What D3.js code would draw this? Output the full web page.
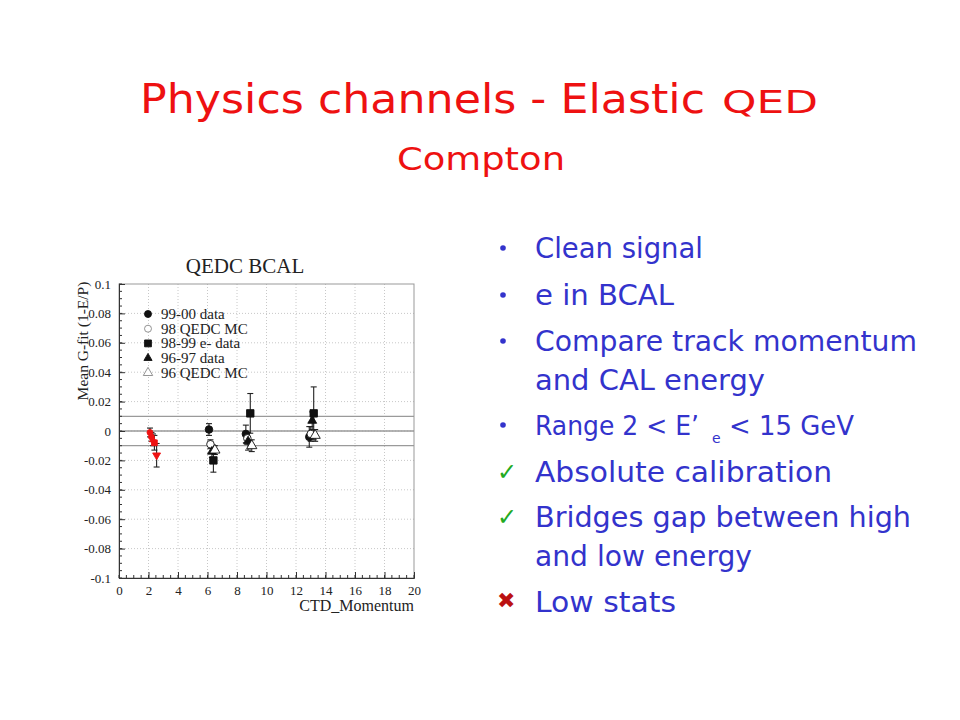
<!DOCTYPE html>
<html><head><meta charset="utf-8">
<script src="https://cdn.jsdelivr.net/npm/d3@7"></script>
<style>body{margin:0;background:#fff}svg{display:block}</style>
</head><body>
<svg id="c" width="960" height="720"></svg>
<script>
// ---- data ----
const seriesNames = ["99-00 data", "98 QEDC MC", "98-99 e- data", "96-97 data", "96 QEDC MC"];
const mom9900 = [2.1, 6.1, 8.6, 12.9];
const val9900 = [-0.001, 0.001, -0.002, -0.004];
const err9900 = [0.003, 0.004, 0.006, 0.007];
const mom98mc = [2.2, 6.2, 8.7, 13.0];
const val98mc = [-0.004, -0.009, -0.005, -0.002];
const err98mc = [0.003, 0.003, 0.004, 0.005];
const mom9899 = [2.4, 6.4, 8.9, 13.2];
const val9899 = [-0.008, -0.020, 0.012, 0.012];
const err9899 = [0.005, 0.008, 0.0135, 0.018];
const mom9697 = [2.3, 6.3, 8.75, 13.1];
const val9697 = [-0.006, -0.014, -0.007, 0.007];
const err9697 = [0.004, 0.004, 0.006, 0.006];
const mom96mc = [2.55, 6.5, 9.0, 13.3];
const val96mc = [-0.0165, -0.013, -0.010, -0.003];
const err96mc = [0.008, 0.003, 0.004, 0.004];
const xTicks = [0, 2, 4, 6, 8, 10, 12, 14, 16, 18, 20];
const yTicks = [-0.1, -0.08, -0.06, -0.04, -0.02, 0, 0.02, 0.04, 0.06, 0.08, 0.1];
const refLines = [0.01, 0, -0.01];
const bullets = ["Clean signal", "e in BCAL", "Compare track momentum", "and CAL energy", "RANGE", "Absolute calibration", "Bridges gap between high", "and low energy", "Low stats"];

const svg = d3.select("#c");
const slideFont = "'DejaVu Sans', 'Open Sans', sans-serif";
const red = "#ee1111", blue = "#3333cc";

// ---- slide title ----
const t1 = svg.append("text").attr("x", 140).attr("y", 113).attr("fill", red)
  .style("font-family", slideFont);
t1.append("tspan").attr("font-size", 40).text("Physics channels - Elastic")
  .attr("textLength", 565).attr("lengthAdjust", "spacingAndGlyphs");
t1.append("tspan").attr("x", 722).attr("font-size", 32).text("QED")
  .attr("textLength", 96).attr("lengthAdjust", "spacingAndGlyphs");
svg.append("text").attr("x", 397).attr("y", 170).attr("fill", red)
  .style("font-family", slideFont).attr("font-size", 32).text("Compton")
  .attr("textLength", 168).attr("lengthAdjust", "spacingAndGlyphs");

// ---- bullets ----
const bl = [
  {y: 258, w: 168, m: "dot"}, {y: 305, w: 139, m: "dot"}, {y: 351, w: 382, m: "dot"},
  {y: 390, w: 230, m: null}, {y: 435, w: 0, m: "dot"}, {y: 482, w: 297, m: "check"},
  {y: 527, w: 376, m: "check"}, {y: 566, w: 217, m: null}, {y: 612, w: 141, m: "cross"}
];
bullets.forEach((txt, i) => {
  const b = bl[i];
  if (b.m === "dot") svg.append("circle").attr("cx", 503).attr("cy", b.y - 10).attr("r", 2.8).attr("fill", blue);
  if (b.m === "check") svg.append("text").attr("x", 497).attr("y", b.y - 2).attr("fill", "#22aa22")
    .attr("font-size", 24).style("font-family", "'DejaVu Sans'").text("\u2713");
  if (b.m === "cross") svg.append("text").attr("x", 497).attr("y", b.y - 4).attr("fill", "#bb1111")
    .attr("font-size", 22).style("font-family", "'DejaVu Sans'").text("\u2716");
  if (txt === "RANGE") {
    svg.append("text").attr("x", 535).attr("y", b.y).attr("fill", blue)
      .style("font-family", slideFont).attr("font-size", 27)
      .text("Range 2 < E\u2019").attr("textLength", 164).attr("lengthAdjust", "spacingAndGlyphs");
    svg.append("text").attr("x", 712).attr("y", b.y + 8).attr("fill", blue)
      .style("font-family", slideFont).attr("font-size", 14).text("e");
    svg.append("text").attr("x", 729).attr("y", b.y).attr("fill", blue)
      .style("font-family", slideFont).attr("font-size", 27)
      .text("< 15 GeV").attr("textLength", 125).attr("lengthAdjust", "spacingAndGlyphs");
  } else {
    svg.append("text").attr("x", 535).attr("y", b.y).attr("fill", blue)
      .style("font-family", slideFont).attr("font-size", 28).text(txt)
      .attr("textLength", b.w).attr("lengthAdjust", "spacingAndGlyphs");
  }
});

// ---- chart ----
const serif = "'Liberation Serif', 'DejaVu Serif', serif";
const L = 119, R = 414, T = 284, B = 578;
const x = d3.scaleLinear().domain([0, 20]).range([L, R]);
const y = d3.scaleLinear().domain([-0.1, 0.1]).range([B, T]);
const g = svg.append("g");

g.append("text").attr("x", 245).attr("y", 273).attr("text-anchor", "middle")
  .style("font-family", serif).attr("font-size", 21).attr("fill", "#222").text("QEDC BCAL");

// grid
g.append("g").selectAll("line").data(xTicks.slice(1, -1)).join("line")
  .attr("x1", d => x(d)).attr("x2", d => x(d)).attr("y1", T).attr("y2", B)
  .attr("stroke", "#c8c8c8").attr("stroke-dasharray", "1,2");
g.append("g").selectAll("line").data(yTicks.slice(1, -1)).join("line")
  .attr("x1", L).attr("x2", R).attr("y1", d => y(d)).attr("y2", d => y(d))
  .attr("stroke", "#c8c8c8").attr("stroke-dasharray", "1,2");
// reference lines
g.append("g").selectAll("line").data(refLines).join("line")
  .attr("x1", L).attr("x2", R).attr("y1", d => y(d)).attr("y2", d => y(d))
  .attr("stroke", "#9a9a9a").attr("stroke-width", 1.3);
// frame top/right
g.append("rect").attr("x", L).attr("y", T).attr("width", R - L).attr("height", B - T)
  .attr("fill", "none").attr("stroke", "#999");

// axes
const fmt = d => d === 0 ? "0" : String(+d.toFixed(2)).replace("\u2212", "-");
const xAxis = d3.axisBottom(x).tickValues(xTicks).tickFormat(d3.format("d")).tickSize(-6).tickPadding(8);
const xa = g.append("g").attr("transform", `translate(0,${B})`).call(xAxis);
const xMinor = d3.range(0, 20.01, 0.5);
xa.append("g").selectAll("line").data(xMinor).join("line")
  .attr("x1", d => x(d)).attr("x2", d => x(d)).attr("y1", 0).attr("y2", -3).attr("stroke", "#333");
const yAxis = d3.axisLeft(y).tickValues(yTicks).tickFormat(fmt).tickSize(-6).tickPadding(8);
const ya = g.append("g").attr("transform", `translate(${L},0)`).call(yAxis);
const yMinor = d3.range(-0.1, 0.1001, 0.005);
ya.append("g").selectAll("line").data(yMinor).join("line")
  .attr("y1", d => y(d)).attr("y2", d => y(d)).attr("x1", 0).attr("x2", 3).attr("stroke", "#333");
[xa, ya].forEach(a => {
  a.select(".domain").attr("stroke", "#333");
  a.selectAll(".tick line").attr("stroke", "#333");
  a.selectAll("text").style("font-family", serif).attr("font-size", 13).attr("fill", "#222");
});

g.append("text").attr("x", R).attr("y", 611).attr("text-anchor", "end")
  .style("font-family", serif).attr("font-size", 16).attr("fill", "#222").text("CTD_Momentum");
g.append("text").attr("transform", `translate(88,341) rotate(-90)`).attr("text-anchor", "middle")
  .style("font-family", serif).attr("font-size", 15.5).attr("fill", "#222").text("Mean G-fit (1-E/P)");

// series
const series = [
  {name: seriesNames[0], xs: mom9900, ys: val9900, es: err9900, shape: d3.symbolCircle, size: 45, fill: true},
  {name: seriesNames[1], xs: mom98mc, ys: val98mc, es: err98mc, shape: d3.symbolCircle, size: 45, fill: false},
  {name: seriesNames[2], xs: mom9899, ys: val9899, es: err9899, shape: d3.symbolSquare, size: 55, fill: true},
  {name: seriesNames[3], xs: mom9697, ys: val9697, es: err9697, shape: d3.symbolTriangle, size: 34, fill: true},
  {name: seriesNames[4], xs: mom96mc, ys: val96mc, es: err96mc, shape: d3.symbolTriangle, size: 45, fill: false}
];
const pts = g.append("g");
series.forEach(s => {
  const data = s.xs.map((v, i) => ({x: v, y: s.ys[i], e: s.es[i]}));
  const eg = pts.append("g").attr("stroke", "#222").attr("stroke-width", 1.1);
  eg.selectAll(".v").data(data).join("line")
    .attr("x1", d => x(d.x)).attr("x2", d => x(d.x)).attr("y1", d => y(d.y - d.e)).attr("y2", d => y(d.y + d.e));
  eg.selectAll(".t").data(data.flatMap(d => [{x: d.x, v: d.y - d.e}, {x: d.x, v: d.y + d.e}])).join("line")
    .attr("x1", d => x(d.x) - 3).attr("x2", d => x(d.x) + 3).attr("y1", d => y(d.v)).attr("y2", d => y(d.v));
});
series.forEach(s => {
  const data = s.xs.map((v, i) => ({x: v, y: s.ys[i]}));
  pts.append("g").selectAll("path").data(data).join("path")
    .attr("transform", d => `translate(${x(d.x)},${y(d.y)})` + (d.x < 4 && s.shape === d3.symbolTriangle && !s.fill ? " rotate(180)" : ""))
    .attr("d", d => d3.symbol(s.shape, d.x < 4 ? s.size * 0.6 : s.size)())
    .attr("fill", d => d.x < 4 ? red : (s.fill ? "#111" : "#fff"))
    .attr("stroke", d => d.x < 4 ? red : "#111").attr("stroke-width", 0.9);
});

// legend
const lg = g.append("g");
series.forEach((s, i) => {
  const ly = 314 + i * 14.7;
  lg.append("path").attr("transform", `translate(148,${ly})`)
    .attr("d", d3.symbol(s.shape, s.size * 0.85)())
    .attr("fill", s.fill ? "#111" : "#fff").attr("stroke", s.fill ? "#111" : "#888").attr("stroke-width", 0.9);
  lg.append("text").attr("x", 161).attr("y", ly + 5).style("font-family", serif)
    .attr("font-size", 15).attr("fill", "#222").text(s.name);
});
</script>
</body></html>
